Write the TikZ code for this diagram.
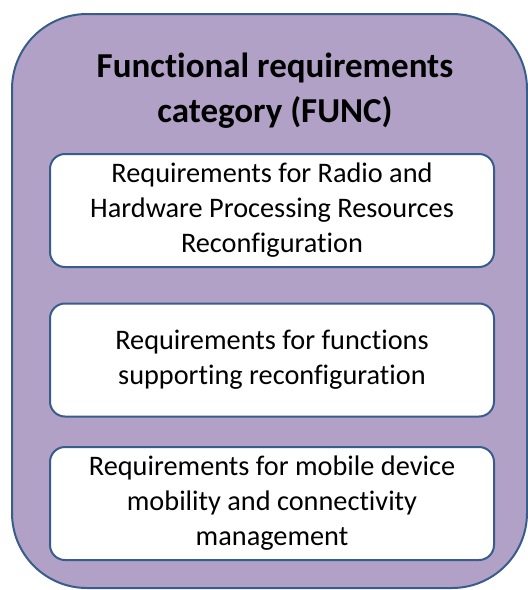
\documentclass[tikz,border=0pt]{standalone}
\usepackage{fontspec}
\setmainfont{Carlito}[Ligatures={NoCommon}]
\usepackage{xcolor}
\definecolor{funcpurple}{HTML}{B2A1C7}
\definecolor{funcblue}{HTML}{385D8A}

\begin{document}
\begin{tikzpicture}[x=1pt,y=-1pt,
  reqbox/.style={draw=funcblue,line width=2pt,fill=white,rounded corners=15pt,
    minimum width=444pt,minimum height=113pt,align=center,
    font=\fontsize{28.3}{35}\selectfont}]
  \useasboundingbox (0,0) rectangle (528,590);
  \node[draw=funcblue,line width=2pt,fill=funcpurple,rounded corners=75pt,
    minimum width=515pt,minimum height=574pt] (func) at (269.5,301) {};
  \node[font=\bfseries\fontsize{35}{45}\selectfont,align=center,anchor=base] (title) at (275,122)
    {Functional requirements\\category (FUNC)};
  \node[reqbox] (radio) at (272,210.5) {Requirements for Radio and\\Hardware Processing Resources\\Reconfiguration};
  \node[reqbox] (support) at (272,360) {Requirements for functions\\supporting reconfiguration};
  \node[reqbox] (mobility) at (272,503.5) {Requirements for mobile device\\mobility and connectivity\\management};
\end{tikzpicture}
\end{document}
